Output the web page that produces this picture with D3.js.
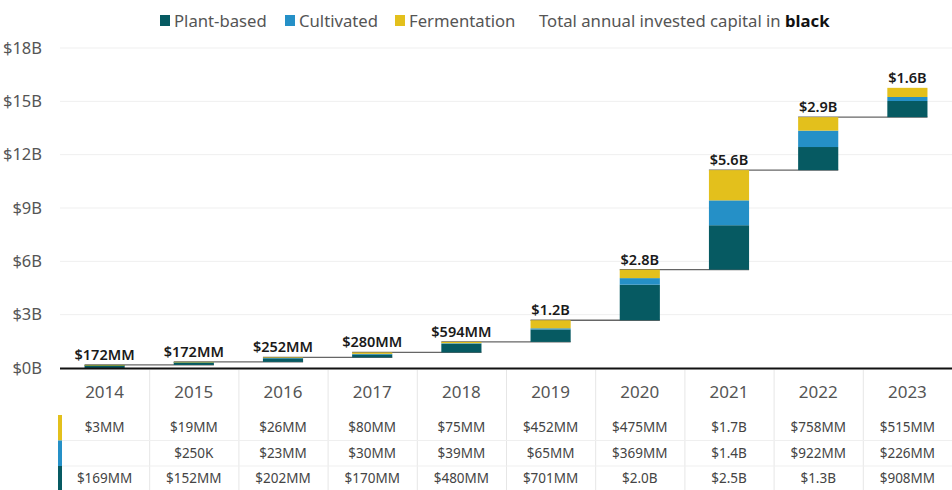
<!DOCTYPE html>
<html>
<head>
<meta charset="utf-8">
<script src="https://cdn.jsdelivr.net/npm/d3@7"></script>
<style>
  html, body { margin: 0; padding: 0; background: #fff; }
  svg { display: block; font-family: "Noto Sans", "Open Sans", sans-serif; }
</style>
</head>
<body>
<svg id="chart" width="952" height="490"></svg>
<script>
// ---- Data (values in $MM) ----
const years = ["2014","2015","2016","2017","2018","2019","2020","2021","2022","2023"];
const plantBased   = [169, 152, 202, 170, 480, 701, 2000, 2500, 1300, 908];
const cultivated   = [0, 0.25, 23, 30, 39, 65, 369, 1400, 922, 226];
const fermentation = [3, 19, 26, 80, 75, 452, 475, 1700, 758, 515];
const totalLabels  = ["$172MM","$172MM","$252MM","$280MM","$594MM","$1.2B","$2.8B","$5.6B","$2.9B","$1.6B"];
const fermentationLabels = ["$3MM","$19MM","$26MM","$80MM","$75MM","$452MM","$475MM","$1.7B","$758MM","$515MM"];
const cultivatedLabels   = ["","$250K","$23MM","$30MM","$39MM","$65MM","$369MM","$1.4B","$922MM","$226MM"];
const plantBasedLabels   = ["$169MM","$152MM","$202MM","$170MM","$480MM","$701MM","$2.0B","$2.5B","$1.3B","$908MM"];
const yTicks = [0, 3000, 6000, 9000, 12000, 15000, 18000];
const yTickLabels = ["$0B","$3B","$6B","$9B","$12B","$15B","$18B"];
const seriesNames = ["Plant-based","Cultivated","Fermentation"];
const colors = ["#065a62", "#2590c7", "#e3c01c"];

// ---- Layout ----
const svg = d3.select("#chart");
const plotLeft = 60, plotRight = 952, plotTop = 48, baseY = 368;

const x = d3.scaleBand().domain(years).range([plotLeft, plotRight]).paddingInner(0.55).paddingOuter(0.275);
const col = d3.scaleBand().domain(years).range([plotLeft, plotRight]).padding(0);
const y = d3.scaleLinear().domain([0, 18000]).range([baseY, plotTop]);

// gridlines
svg.append("g").selectAll("line").data(yTicks.slice(1)).join("line")
  .attr("x1", plotLeft).attr("x2", plotRight)
  .attr("y1", d => y(d)).attr("y2", d => y(d))
  .attr("stroke", "#efefef").attr("stroke-width", 1);

// y axis labels
const yAxis = d3.axisLeft(y).tickValues(yTicks).tickSize(0).tickPadding(0)
  .tickFormat((d, i) => yTickLabels[i]);
const yg = svg.append("g").attr("transform", `translate(42,0)`).call(yAxis);
yg.select(".domain").remove();
yg.selectAll("text").attr("font-size", 16.5).attr("fill", "#555")
  .attr("font-family", '"Noto Sans", sans-serif');

// stacked waterfall data
const rows = years.map((yr, i) => {
  const vals = [plantBased[i], cultivated[i], fermentation[i]];
  return { year: yr, vals, total: d3.sum(vals) };
});
let cum = 0;
rows.forEach(r => {
  r.start = cum;
  let s = cum;
  r.segs = r.vals.map((v, k) => { const seg = { y0: s, y1: s + v, k }; s += v; return seg; });
  cum += r.total;
  r.end = cum;
});

// connectors
const conn = svg.append("g");
rows.forEach((r, i) => {
  if (i < rows.length - 1) {
    conn.append("line")
      .attr("x1", x(r.year)).attr("x2", x(rows[i + 1].year) + x.bandwidth())
      .attr("y1", y(r.end)).attr("y2", y(r.end))
      .attr("stroke", "#666").attr("stroke-width", 1.3);
  }
});

// bars
const barG = svg.append("g");
rows.forEach(r => {
  barG.selectAll(null).data(r.segs.filter(s => s.y1 > s.y0)).join("rect")
    .attr("x", x(r.year))
    .attr("width", x.bandwidth())
    .attr("y", d => y(d.y1))
    .attr("height", d => Math.max(y(d.y0) - y(d.y1), 0.6))
    .attr("fill", d => colors[d.k]);
});

// total labels
svg.append("g").selectAll("text").data(rows).join("text")
  .attr("x", d => x(d.year) + x.bandwidth() / 2)
  .attr("y", d => y(d.end) - 5)
  .attr("text-anchor", "middle")
  .attr("font-size", 14.5).attr("font-weight", 600).attr("fill", "#1a1a1a")
  .text((d, i) => totalLabels[i]);

// baseline
svg.append("line").attr("x1", plotLeft).attr("x2", plotRight)
  .attr("y1", y(0) + 0.5).attr("y2", y(0) + 0.5)
  .attr("stroke", "#111").attr("stroke-width", 2);

// column dividers
svg.append("g").selectAll("line").data(years.slice(1)).join("line")
  .attr("x1", d => col(d) + 0.5).attr("x2", d => col(d) + 0.5)
  .attr("y1", baseY + 2).attr("y2", 490)
  .attr("stroke", "#e6e6e6").attr("stroke-width", 1);

// x axis year labels
const xAxis = d3.axisBottom(col).tickSize(0).tickPadding(0);
const xg = svg.append("g").attr("transform", `translate(0,${baseY + 30})`).call(xAxis);
xg.select(".domain").remove();
xg.selectAll("text").attr("font-size", 17).attr("fill", "#555").attr("dy", 0)
  .attr("font-family", '"Noto Sans", sans-serif');

// table
const tableRows = [
  { labels: fermentationLabels, color: colors[2], y0: 415, y1: 440.5 },
  { labels: cultivatedLabels,   color: colors[1], y0: 440.5, y1: 466 },
  { labels: plantBasedLabels,   color: colors[0], y0: 466, y1: 490 }
];
const tg = svg.append("g");
tableRows.forEach((tr, ri) => {
  if (ri > 0) {
    tg.append("line").attr("x1", plotLeft + 2).attr("x2", plotRight)
      .attr("y1", tr.y0).attr("y2", tr.y0)
      .attr("stroke", "#efefef").attr("stroke-width", 1);
  }
  tg.append("rect").attr("x", 58).attr("width", 4)
    .attr("y", tr.y0).attr("height", tr.y1 - tr.y0).attr("fill", tr.color);
  tg.selectAll(null).data(years).join("text")
    .attr("x", d => col(d) + col.bandwidth() / 2)
    .attr("y", (tr.y0 + tr.y1) / 2 + 4.5)
    .attr("text-anchor", "middle")
    .attr("font-size", 13.5).attr("fill", "#444")
    .text((d, i) => tr.labels[i]);
});

// legend
const legend = svg.append("g").attr("font-size", 16.7);
const legX = [160, 285, 395];
seriesNames.forEach((name, i) => {
  legend.append("rect").attr("x", legX[i]).attr("y", 15).attr("width", 10).attr("height", 11)
    .attr("fill", colors[i]);
  legend.append("text").attr("x", legX[i] + 14).attr("y", 26.5).attr("fill", "#555").text(name);
});
const note = legend.append("text").attr("x", 539).attr("y", 26.5).attr("fill", "#555");
note.append("tspan").text("Total annual invested capital in ");
note.append("tspan").attr("font-weight", 700).attr("fill", "#111").text("black");
</script>
</body>
</html>
